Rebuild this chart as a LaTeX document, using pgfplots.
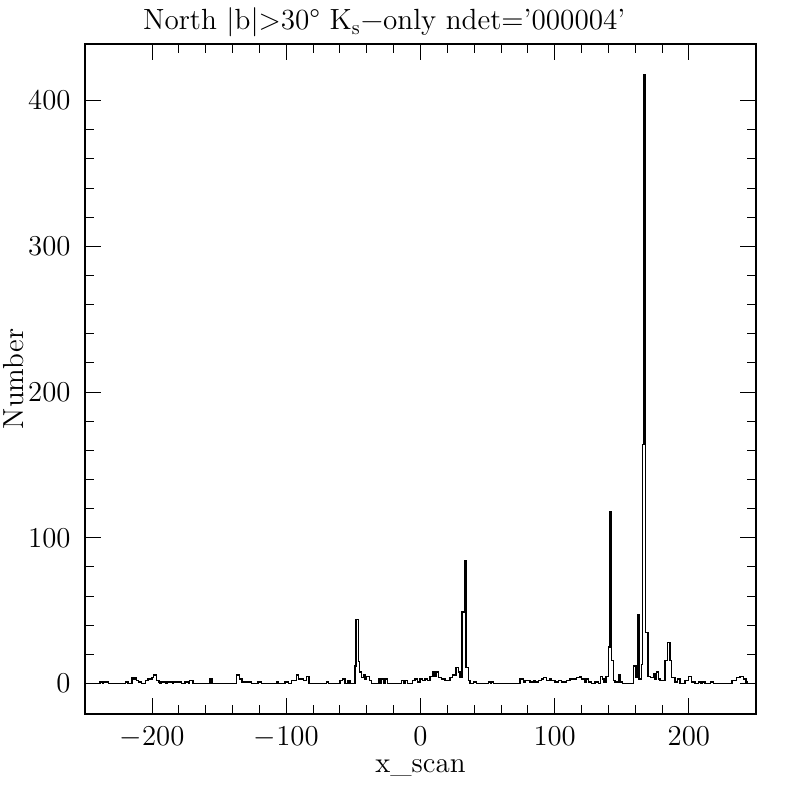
\documentclass[border=0pt]{standalone}
\usepackage{pgfplots}
\pgfplotsset{compat=1.18}
\begin{document}
\begin{tikzpicture}
\begin{axis}[
  at={(0,0)}, anchor=south west,
  scale only axis, width=335.5pt, height=335pt,
  xmin=-250, xmax=250, ymin=-20.9, ymax=438.9,
  xtick={-200,-100,0,100,200}, ytick={0,100,200,300,400},
  minor tick num=4,
  major tick length=8pt, minor tick length=4.5pt,
  tick style={black, line width=0.5pt},
  axis line style={line width=0.6pt},
  tick label style={font=\fontsize{13.5}{15}\selectfont},
  xticklabel style={yshift=-3pt},
  yticklabel style={xshift=-3.7pt},
  title={North |b|>30° K$_{\mathrm{s}}$−only ndet='000004'},
  title style={at={(axis description cs:0.446,1.003)}, anchor=base, font=\fontsize{14.6}{16}\selectfont, inner sep=0pt},
  xlabel={x\_scan},
  xlabel style={at={(axis description cs:0.5,-0.0866)}, anchor=base, font=\fontsize{14.5}{16}\selectfont, inner sep=0pt},
  ylabel={Number},
  ylabel style={at={(axis description cs:-0.107,0.5)}, anchor=center, font=\fontsize{14.5}{16}\selectfont, inner sep=0pt},
]
\addplot[const plot, black, line width=0.7pt] coordinates {
(-250,0) (-239,1) (-237,0) (-236,1) (-234.5,1) (-232.5,0) (-220,1) (-218,0)
(-215,4) (-213.5,3) (-212.5,4) (-211.5,2) (-210,1) (-208,0) (-205,2) (-203,3)
(-200,4) (-199,6) (-196.5,2) (-195,1) (-194,0) (-193,1) (-190,0) (-189,1)
(-186,1) (-185,0) (-184,1) (-181,1) (-178,0) (-175.5,1) (-173,0) (-172,2)
(-169.5,0) (-157,3) (-155.5,0) (-137,6) (-135,3) (-133,1) (-131,1) (-128.5,1)
(-126,0) (-121,1) (-118.5,0) (-107,1) (-106,0) (-101,1) (-98.5,0) (-96,2)
(-92.5,6) (-91,3) (-88.5,3) (-87.3,2) (-85,5) (-83,0) (-70,1) (-68.7,0)
(-60,2) (-58,3) (-56.3,0) (-54,2) (-52.5,0) (-48.8,12) (-48.1,44) (-46.1,15)
(-45.3,8) (-43.8,4) (-42.6,6) (-41.3,3) (-40.1,5) (-38.1,2) (-36.4,0) (-31.4,3)
(-30.2,0) (-28.9,3) (-27.7,0) (-26.5,3) (-24.7,0) (-14,2) (-12.8,0) (-11.5,2)
(-9.8,0) (-5.8,2) (-4.1,3) (-2.4,1) (-0.4,3) (1.6,2) (3.4,3) (5.1,2)
(7.1,5) (9.1,8) (10.1,5) (11.6,8) (13.3,4) (15.8,3) (18.3,2) (22,4)
(24,6) (26.5,11) (28.2,8) (29.4,4) (30.9,49) (32.7,84) (33.9,11) (35.7,2)
(36.9,0) (39.4,1) (41.9,0) (50.6,1) (52,0) (52.5,1) (54.3,0) (74.2,3)
(76.6,1) (77.9,2) (81.6,1) (84.1,2) (85.3,1) (87.8,2) (90.3,3) (91.5,4)
(94,2) (96.5,3) (97.8,2) (100.2,1) (102.7,2) (105.2,1) (108.9,2) (111.4,3)
(113.9,3) (116.4,4) (118.9,5) (120.1,3) (122.6,1) (123.8,3) (125.1,1) (127.5,0)
(130,1) (132.5,0) (134.2,5) (135.7,3) (136.7,1) (138.2,5) (140.2,25) (141.2,118)
(142.4,16) (143.7,2) (144.9,1) (147.4,6) (148.7,1) (150.6,0) (158.6,12) (160.6,4)
(161.6,47) (162.8,3) (164.5,13) (165.5,164) (166.5,418) (167.8,35) (169.5,5) (171.5,4)
(173.5,7) (174.7,3) (176,8) (177.2,3) (178.5,2) (182.2,16) (184.2,28) (186,16)
(187.2,4) (189.6,1) (191.4,3) (193.4,0) (197.1,2) (199.6,5) (202,1) (204.5,0)
(207,1) (209,0) (210,1) (212,0) (216,1) (218.3,0) (232,2) (235.6,4)
(238,5) (240.5,3) (242.5,1) (243.8,0) (250,0)
};
\end{axis}
\path (-42.5pt,-43pt) rectangle (357.5pt,357pt);
\end{tikzpicture}
\end{document}
